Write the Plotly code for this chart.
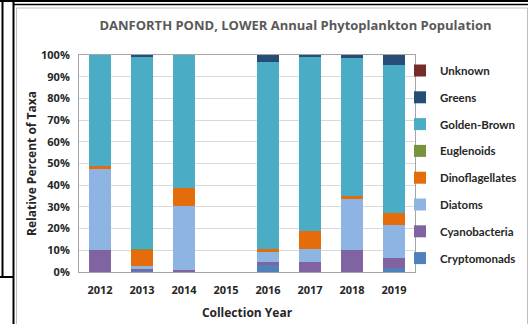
import plotly.graph_objects as go

# Collection years and relative percent of taxa per phytoplankton group
years = ["2012", "2013", "2014", "2015", "2016", "2017", "2018", "2019"]

cryptomonads    = [0.0, 0.3, 0.0, None, 3.0, 0.0, 0.0, 1.7]
cyanobacteria   = [10.0, 1.2, 1.1, None, 1.5, 4.6, 10.3, 4.6]
diatoms         = [37.5, 1.2, 29.2, None, 4.8, 6.2, 23.5, 15.4]
dinoflagellates = [1.5, 7.7, 8.5, None, 1.4, 8.3, 1.1, 5.5]
euglenoids      = [0.0, 0.3, 0.0, None, 0.0, 0.0, 0.0, 0.0]
golden_brown    = [51.0, 88.5, 61.2, None, 86.1, 79.9, 63.6, 68.3]
greens          = [0.0, 1.0, 0.0, None, 3.2, 1.0, 1.5, 4.5]
unknown         = [0.0, 0.0, 0.0, None, 0.0, 0.0, 0.0, 0.0]

# Stack order, bottom to top
groups = [
    ("Cryptomonads", cryptomonads, "#4F81BD"),
    ("Cyanobacteria", cyanobacteria, "#8064A2"),
    ("Diatoms", diatoms, "#8EB4E3"),
    ("Dinoflagellates", dinoflagellates, "#E46C0A"),
    ("Euglenoids", euglenoids, "#77933C"),
    ("Golden-Brown", golden_brown, "#4BACC6"),
    ("Greens", greens, "#254D75"),
    ("Unknown", unknown, "#772C2A"),
]

FONT = "Open Sans"
TXT = "#262626"

fig = go.Figure()
n = len(groups)
for i, (name, vals, color) in enumerate(groups):
    fig.add_trace(go.Bar(
        x=years, y=vals, name=name, legendgroup=name,
        legendrank=n - i,  # top of the stack listed first
        marker=dict(color=color, line=dict(width=0)),
    ))

# Plot-area geometry in pixels (used to place the frame lines)
W, H = 528, 324
ML, MR, MT, MB = 79, 113, 55, 52
PW, PH = W - ML - MR, H - MT - MB


def px(x):
    return (x - ML) / PW


def py(y):
    return (H - MB - y) / PH


def line(x0, y0, x1, y1, color, width):
    return dict(type="line", xref="paper", yref="paper",
                x0=px(x0), y0=py(y0), x1=px(x1), y1=py(y1),
                line=dict(color=color, width=width), layer="above")


shapes = [
    # chart border
    dict(type="rect", xref="paper", yref="paper",
         x0=px(16.5), y0=py(8), x1=px(527.5), y1=py(330),
         line=dict(color="#BFBFBF", width=1), layer="below"),
    # surrounding black frame
    line(0, 1, 528, 1, "black", 2),
    line(2.5, 0, 2.5, 277, "black", 2),
    line(0, 277, 14, 277, "black", 2),
    line(13.5, 0, 13.5, 324, "black", 2),
    line(13.5, 4.5, 528, 4.5, "black", 1.5),
]

fig.update_layout(
    width=W, height=H,
    margin=dict(l=ML, r=MR, t=MT, b=MB, pad=0, autoexpand=False),
    barmode="stack", bargap=0.48,
    paper_bgcolor="white", plot_bgcolor="white",
    font=dict(family=FONT, color=TXT, size=11),
    title=dict(
        text="DANFORTH POND, LOWER Annual Phytoplankton Population",
        x=(101 + 490) / 2 / W, xanchor="center",
        y=1 - 25 / H, yanchor="middle",
        font=dict(family=FONT, size=13, color="#595959", weight="bold"),
    ),
    xaxis=dict(
        type="category", categoryorder="array", categoryarray=years,
        showline=True, linecolor="#A6A6A6", linewidth=1, mirror=True,
        ticks="", ticklabelstandoff=8,
        tickfont=dict(size=11, weight="bold", color=TXT),
        title=dict(text="Collection Year", standoff=12,
                   font=dict(size=12, weight="bold", color=TXT)),
    ),
    yaxis=dict(
        range=[0, 100], dtick=10, ticksuffix="%",
        showgrid=True, gridcolor="#D9D9D9", gridwidth=1,
        showline=True, linecolor="#A6A6A6", linewidth=1, mirror=True,
        zeroline=False, ticks="", ticklabelstandoff=6,
        tickfont=dict(size=11, weight="bold", color=TXT),
        title=dict(text="Relative Percent of Taxa", standoff=1,
                   font=dict(size=12, weight="bold", color=TXT)),
    ),
    legend=dict(
        xref="container", yref="container",
        x=400 / W, xanchor="left", y=1 - 56 / H, yanchor="top",
        traceorder="grouped", tracegroupgap=7.8, maxheight=1,
        font=dict(family="Lato", size=11.5, weight="bold", color=TXT),
        itemwidth=30, bgcolor="rgba(0,0,0,0)",
    ),
    shapes=shapes,
)

fig.write_html("out.html")
